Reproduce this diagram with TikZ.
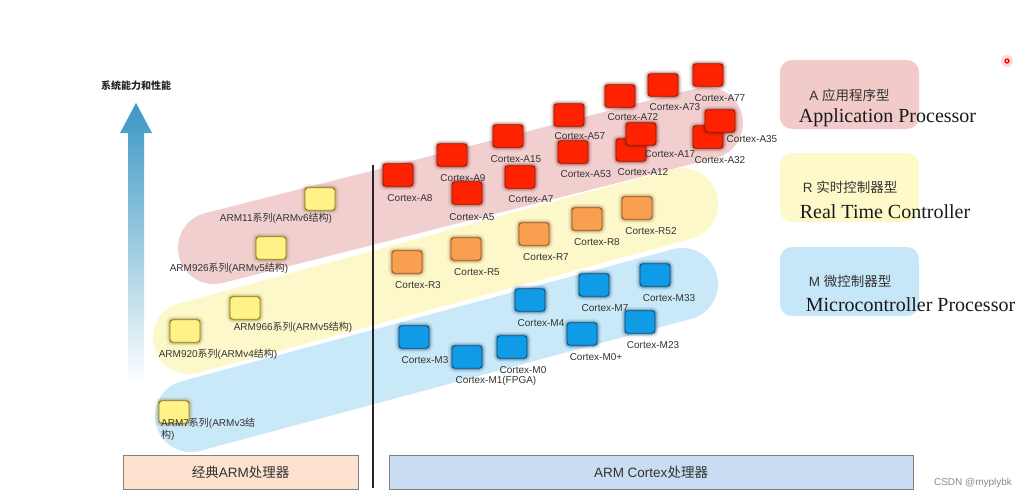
\documentclass[tikz,border=0pt]{standalone}
\usepackage{fontspec}
\setmainfont{Liberation Sans}
\newfontfamily\cjkf{Noto Sans CJK SC}
\newfontfamily\serf{Liberation Serif}
\newcommand{\zh}[1]{{\cjkf #1}}
\definecolor{bandred}{HTML}{F1CFCF}
\definecolor{bandyel}{HTML}{FDF8CA}
\definecolor{bandblu}{HTML}{C9E8F8}
\definecolor{legred}{HTML}{F2CACA}
\definecolor{legyel}{HTML}{FDF9C8}
\definecolor{legblu}{HTML}{C5E7F8}
\definecolor{bxred}{HTML}{FF2200}
\definecolor{bxredd}{HTML}{8E1A08}
\definecolor{bxora}{HTML}{F9A050}
\definecolor{bxorad}{HTML}{94561E}
\definecolor{bxblu}{HTML}{0F9BE6}
\definecolor{bxblud}{HTML}{0B4C78}
\definecolor{bxyel}{HTML}{FFF388}
\definecolor{bxyeld}{HTML}{8C7A22}
\definecolor{labc}{HTML}{333333}
\definecolor{arrtop}{HTML}{3A97C3}
\definecolor{arrmid}{HTML}{8CC7E1}
\definecolor{barl}{HTML}{FDE2CF}
\definecolor{barr}{HTML}{C8DDF1}
\definecolor{barb}{HTML}{808080}
\tikzset{
  bandline/.style={line width=72pt, line cap=round},
  box/.style={rectangle, rounded corners=3pt, minimum width=30pt, minimum height=22.5pt, inner sep=0pt, line width=0.9pt},
  redbox/.style={box, fill=bxred, draw=bxredd, preaction={draw=bxredd, line width=8pt, draw opacity=0.08}, preaction={draw=bxredd, line width=5pt, draw opacity=0.15}, preaction={draw=bxredd, line width=3pt, draw opacity=0.25}},
  orabox/.style={box, fill=bxora, draw=bxorad, preaction={draw=bxorad, line width=8pt, draw opacity=0.08}, preaction={draw=bxorad, line width=5pt, draw opacity=0.15}, preaction={draw=bxorad, line width=3pt, draw opacity=0.25}},
  blubox/.style={box, fill=bxblu, draw=bxblud, preaction={draw=bxblud, line width=8pt, draw opacity=0.08}, preaction={draw=bxblud, line width=5pt, draw opacity=0.15}, preaction={draw=bxblud, line width=3pt, draw opacity=0.25}},
  yelbox/.style={box, fill=bxyel, draw=bxyeld, preaction={draw=bxyeld, line width=8pt, draw opacity=0.08}, preaction={draw=bxyeld, line width=5pt, draw opacity=0.15}, preaction={draw=bxyeld, line width=3pt, draw opacity=0.25}},
  lab/.style={font=\fontsize{10}{12}\selectfont, text=labc, inner sep=0pt},
  legbox/.style={rectangle, rounded corners=12pt, minimum width=139pt, minimum height=69pt, inner sep=0pt},
  legzh/.style={font=\fontsize{13.5}{15}\selectfont, text=labc, inner sep=0pt},
  legen/.style={font=\serf\fontsize{20}{22}\selectfont, text=black!90, inner sep=0pt},
  bar/.style={rectangle, draw=barb, line width=0.8pt, minimum height=34pt, inner sep=0pt, font=\fontsize{13.5}{15}\selectfont, text=labc},
}
\begin{document}
\begin{tikzpicture}[x=1pt,y=-1pt]
\useasboundingbox (0,0) rectangle (1030,501);
\fill[white] (0,0) rectangle (1030,501);

% bands
\draw[bandline, bandblu] (191,416) -- (682,284);
\draw[bandline, bandyel] (189,338) -- (682,204);
\draw[bandline, bandred] (214,248) -- (707,123);

% arrow
\shade[top color=arrtop, middle color=arrmid, bottom color=white]
  (136,103) -- (152,133) -- (144,133) -- (144,385) -- (128,385) -- (128,133) -- (120,133) -- cycle;
\node[inner sep=0pt, font=\cjkf\bfseries\fontsize{10}{12}\selectfont, text=black!85] (axlab) at (136,86) {系统能力和性能};

% divider
\coordinate (divtop) at (373,165);
\coordinate (divbot) at (373,488);
\draw[line width=1.1pt, black!85] (divtop) -- (divbot);

% classic ARM boxes
\node[yelbox] (c11) at (320,199) {};
\node[yelbox] (c926) at (271,248) {};
\node[yelbox] (c966) at (245,308) {};
\node[yelbox] (c920) at (185,331) {};
\node[yelbox] (c7) at (174,412) {};
\node[lab] (lc11) at (276,218) {ARM11\zh{系列}(ARMv6\zh{结构})};
\node[lab] (lc926) at (229,268) {ARM926\zh{系列}(ARMv5\zh{结构})};
\node[lab] (lc966) at (293,327) {ARM966\zh{系列}(ARMv5\zh{结构})};
\node[lab] (lc920) at (218,354) {ARM920\zh{系列}(ARMv4\zh{结构})};
\node[lab, anchor=north west, align=left] (lc7) at (161,418) {ARM7\zh{系列}(ARMv3\zh{结}\\\zh{构})};

% A series
\node[redbox] (a8) at (398,175) {};
\node[redbox] (a5) at (467,193) {};
\node[redbox] (a9) at (452,155) {};
\node[redbox] (a7) at (520,177) {};
\node[redbox] (a15) at (508,136) {};
\node[redbox] (a53) at (573,152) {};
\node[redbox] (a57) at (569,115) {};
\node[redbox] (a12) at (631,150) {};
\node[redbox] (a17) at (641,134) {};
\node[redbox] (a72) at (620,96) {};
\node[redbox] (a73) at (663,85) {};
\node[redbox] (a77) at (708,75) {};
\node[redbox] (a32) at (708,137) {};
\node[redbox] (a35) at (720,121) {};
\node[lab] (la8) at (410,198) {Cortex-A8};
\node[lab] (la5) at (472,217) {Cortex-A5};
\node[lab] (la9) at (463,178) {Cortex-A9};
\node[lab] (la7) at (531,199) {Cortex-A7};
\node[lab] (la15) at (516,159) {Cortex-A15};
\node[lab] (la53) at (586,174) {Cortex-A53};
\node[lab] (la57) at (580,136) {Cortex-A57};
\node[lab] (la12) at (643,172) {Cortex-A12};
\node[lab] (la17) at (670,154) {Cortex-A17};
\node[lab] (la72) at (633,117) {Cortex-A72};
\node[lab] (la73) at (675,107) {Cortex-A73};
\node[lab] (la77) at (720,98) {Cortex-A77};
\node[lab] (la32) at (720,160) {Cortex-A32};
\node[lab] (la35) at (752,139) {Cortex-A35};

% R series
\node[orabox] (r3) at (407,262) {};
\node[orabox] (r5) at (466,249) {};
\node[orabox] (r7) at (534,234) {};
\node[orabox] (r8) at (587,219) {};
\node[orabox] (r52) at (637,208) {};
\node[lab] (lr3) at (418,285) {Cortex-R3};
\node[lab] (lr5) at (477,272) {Cortex-R5};
\node[lab] (lr7) at (546,257) {Cortex-R7};
\node[lab] (lr8) at (597,242) {Cortex-R8};
\node[lab] (lr52) at (651,231) {Cortex-R52};

% M series
\node[blubox] (m3) at (414,337) {};
\node[blubox] (m1) at (467,357) {};
\node[blubox] (m0) at (512,347) {};
\node[blubox] (m4) at (530,300) {};
\node[blubox] (m0p) at (582,334) {};
\node[blubox] (m7) at (594,285) {};
\node[blubox] (m23) at (640,322) {};
\node[blubox] (m33) at (655,275) {};
\node[lab] (lm3) at (425,360) {Cortex-M3};
\node[lab] (lm1) at (496,381) {Cortex-M1(FPGA)};
\node[lab] (lm0) at (523,370) {Cortex-M0};
\node[lab] (lm4) at (541,323) {Cortex-M4};
\node[lab] (lm0p) at (596,357) {Cortex-M0+};
\node[lab] (lm7) at (605,308) {Cortex-M7};
\node[lab] (lm23) at (653,345) {Cortex-M23};
\node[lab] (lm33) at (669,298) {Cortex-M33};

% legend
\node[legbox, fill=legred] (legA) at (849.5,94.5) {};
\node[legbox, fill=legyel] (legR) at (849.5,187.5) {};
\node[legbox, fill=legblu] (legM) at (849.5,281.5) {};
\node[legzh] (tA) at (849.5,95) {A \zh{应用程序型}};
\node[legen] (eA) at (887.5,118) {Application Processor};
\node[legzh] (tR) at (850,187) {R \zh{实时控制器型}};
\node[legen] (eR) at (885,212) {Real Time Controller};
\node[legzh] (tM) at (850,281) {M \zh{微控制器型}};
\node[legen] (eM) at (910.5,305) {Microcontroller Processor};

% bottom bars
\node[bar, fill=barl, minimum width=235pt] (barclassic) at (240.5,472) {\zh{经典}ARM\zh{处理器}};
\node[bar, fill=barr, minimum width=524pt] (barcortex) at (651,472) {ARM Cortex\zh{处理器}};

% watermark and pointer dot
\node[inner sep=0pt, font=\fontsize{10}{12}\selectfont, text=black!45] (wm) at (973,483) {CSDN @myplybk};
\fill[red!25, opacity=0.6] (1007,61) circle (6);
\draw[red, line width=1.3pt] (1007,61) circle (2);
\end{tikzpicture}
\end{document}
